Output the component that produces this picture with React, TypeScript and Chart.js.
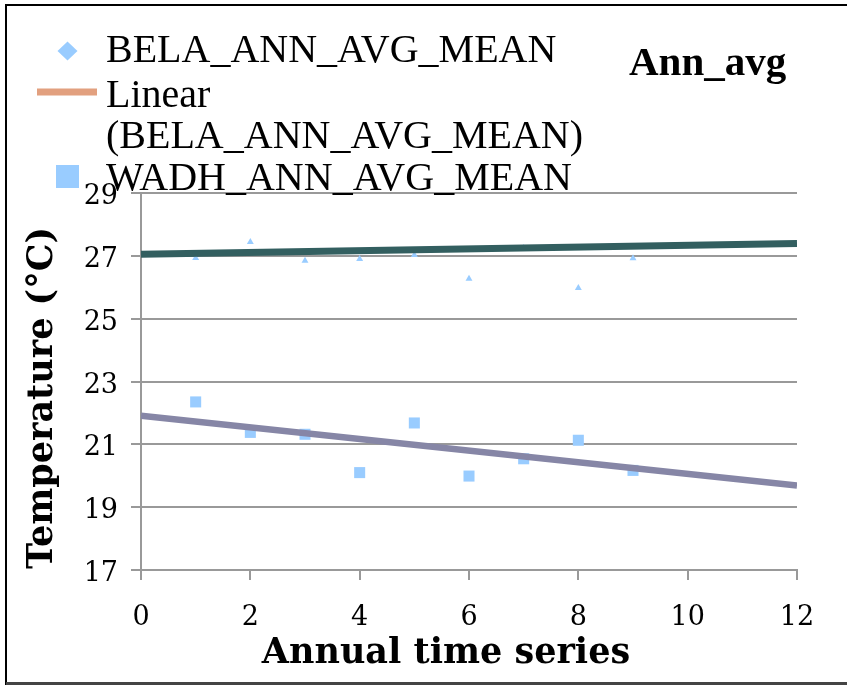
import React, { useEffect, useRef } from 'react';
import { Chart, registerables } from 'chart.js';

Chart.register(...registerables);

// ---- data ----
const xValues = [1, 2, 3, 4, 5, 6, 7, 8, 9];
const belaValues = [26.93, 27.44, 26.84, 26.9, 27.03, 26.27, 27.25, 25.98, 26.92];
const wadhValues = [22.35, 21.38, 21.32, 20.1, 21.68, 19.99, 20.54, 21.13, 20.17];
const trendX = [0, 12];
const belaTrend = [27.05, 27.39];
const wadhTrend = [21.91, 19.69];
const xTicksRange = [0, 12, 2];
const yTicksRange = [17, 29, 2];
const belaLabel = 'BELA_ANN_AVG_MEAN';
const belaTrendLabel = 'Linear (BELA_ANN_AVG_MEAN)';
const wadhLabel = 'WADH_ANN_AVG_MEAN';
const wadhTrendLabel = 'Linear (WADH_ANN_AVG_MEAN)';
const legendLines = [['BELA_ANN_AVG_MEAN'], ['Linear', '(BELA_ANN_AVG_MEAN)'], ['WADH_ANN_AVG_MEAN']];
const chartTitle = 'Ann_avg';
const xTitle = 'Annual time series';
const yTitle = 'Temperature (°C)';

const SERIF_WIDE = "'DejaVu Serif', 'Liberation Serif', 'Times New Roman', serif";
const SERIF_NARROW = "'Liberation Serif', 'Times New Roman', Times, serif";

const overlayPlugin = {
  id: 'overlay',
  afterDraw(chart: any) {
    const ctx = chart.ctx as CanvasRenderingContext2D;
    ctx.save();
    // frame
    ctx.strokeStyle = '#000';
    ctx.lineWidth = 2;
    ctx.beginPath();
    ctx.moveTo(6, 685);
    ctx.lineTo(6, 5);
    ctx.lineTo(847, 5);
    ctx.stroke();
    ctx.strokeStyle = '#444';
    ctx.lineWidth = 3;
    ctx.beginPath();
    ctx.moveTo(6, 683.5);
    ctx.lineTo(847, 683.5);
    ctx.stroke();

    // legend markers
    ctx.fillStyle = '#99CCFF';
    ctx.beginPath();
    ctx.moveTo(67.5, 41.5);
    ctx.lineTo(77.5, 51);
    ctx.lineTo(67.5, 60.5);
    ctx.lineTo(57.5, 51);
    ctx.closePath();
    ctx.fill();
    ctx.fillStyle = '#E2A07F';
    ctx.fillRect(37, 88.5, 60, 7);
    ctx.fillStyle = '#99CCFF';
    ctx.fillRect(56, 165, 23, 23);

    // legend text
    ctx.fillStyle = '#000';
    ctx.textAlign = 'left';
    ctx.textBaseline = 'alphabetic';
    ctx.font = '40px ' + SERIF_NARROW;
    const baselines = [[62], [107, 148], [190]];
    legendLines.forEach((lines, i) => {
      lines.forEach((t, j) => ctx.fillText(t, 106, baselines[i][j]));
    });

    // chart title
    ctx.font = 'bold 41px ' + SERIF_NARROW;
    ctx.fillText(chartTitle, 629, 75);

    // axis titles
    ctx.font = 'bold 35px ' + SERIF_WIDE;
    ctx.textAlign = 'center';
    ctx.fillText(xTitle, 446, 663);
    ctx.font = 'bold 35px ' + SERIF_WIDE;
    ctx.translate(52, 398);
    ctx.rotate(-Math.PI / 2);
    ctx.fillText(yTitle, 0, 0);
    ctx.restore();
  },
};

export default function App() {
  const ref = useRef<HTMLCanvasElement | null>(null);
  useEffect(() => {
    if (!ref.current) return;
    const tickFont = { family: SERIF_WIDE, size: 27 };
    const chart = new Chart(ref.current, {
      type: 'scatter',
      data: {
        datasets: [
          {
            label: belaTrendLabel,
            data: trendX.map((x, i) => ({ x, y: belaTrend[i] })),
            showLine: true,
            borderColor: '#335F60',
            backgroundColor: '#335F60',
            borderWidth: 7,
            pointRadius: 0,
            order: 0,
          },
          {
            label: wadhTrendLabel,
            data: trendX.map((x, i) => ({ x, y: wadhTrend[i] })),
            showLine: true,
            borderColor: '#8686A6',
            backgroundColor: '#8686A6',
            borderWidth: 6.5,
            pointRadius: 0,
            order: 0,
          },
          {
            label: belaLabel,
            data: xValues.map((x, i) => ({ x, y: belaValues[i] })),
            pointStyle: 'triangle',
            pointRadius: 4,
            backgroundColor: '#99CCFF',
            borderColor: '#99CCFF',
            borderWidth: 0,
            order: 1,
          },
          {
            label: wadhLabel,
            data: xValues.map((x, i) => ({ x, y: wadhValues[i] })),
            pointStyle: 'rect',
            pointRadius: 7.8,
            backgroundColor: '#99CCFF',
            borderColor: '#99CCFF',
            borderWidth: 0,
            order: 1,
          },
        ],
      },
      options: {
        animation: false,
        responsive: false,
        devicePixelRatio: 1,
        events: [],
        layout: { padding: { top: 193, right: 50, left: 0, bottom: 0 } },
        plugins: {
          legend: { display: false },
          title: { display: false },
          tooltip: { enabled: false },
        },
        scales: {
          x: {
            type: 'linear',
            min: xTicksRange[0],
            max: xTicksRange[1],
            afterFit: (s: any) => {
              s.height = 115;
            },
            ticks: { stepSize: xTicksRange[2], font: tickFont, color: '#000', padding: 22, maxRotation: 0 },
            grid: { drawOnChartArea: false, color: '#999', lineWidth: 2, tickLength: 10 },
            border: { color: '#999', width: 2 },
            title: { display: false, text: xTitle },
          },
          y: {
            type: 'linear',
            min: yTicksRange[0],
            max: yTicksRange[1],
            afterFit: (s: any) => {
              s.width = 141;
            },
            ticks: { stepSize: yTicksRange[2], font: tickFont, color: '#000', padding: 13, labelOffset: 4 },
            grid: { color: '#999', lineWidth: 2, tickLength: 10 },
            border: { color: '#999', width: 2 },
            title: { display: false, text: yTitle },
          },
        },
      },
      plugins: [overlayPlugin],
    });
    return () => chart.destroy();
  }, []);
  return (
    <div style={{ position: 'absolute', left: 0, top: 0, width: 847, height: 685, background: '#fff' }}>
      <canvas ref={ref} width={847} height={685} style={{ width: 847, height: 685, display: 'block' }} />
    </div>
  );
}
